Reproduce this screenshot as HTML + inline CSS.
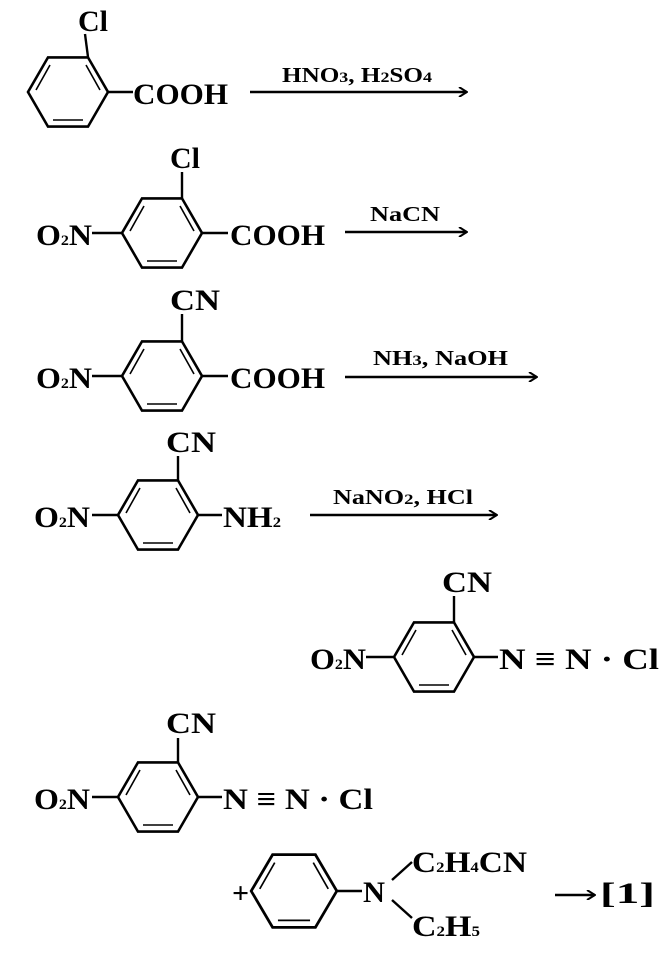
<!DOCTYPE html>
<html><head><meta charset="utf-8"><style>
html,body{margin:0;padding:0;background:#fff;}
svg{display:block;}
text{font-family:"Liberation Serif",serif;fill:#000;font-weight:bold;}
.t{font-size:30px;}
.s{font-size:15px;}
.l{font-size:21px;}
</style></head><body>
<svg width="662" height="962" viewBox="0 0 662 962" xmlns="http://www.w3.org/2000/svg">
<defs>
<g id="ring" fill="none" stroke="#000" stroke-width="2.6">
<polygon points="40,0 20,34.6 -20,34.6 -40,0 -20,-34.6 20,-34.6"/>
<line x1="-32" y1="-2" x2="-18" y2="-27" stroke-width="1.6"/>
<line x1="18" y1="-27" x2="32" y2="-2" stroke-width="1.6"/>
<line x1="-15" y1="28" x2="15" y2="28" stroke-width="1.6"/>
</g>
<marker id="ah" markerWidth="10" markerHeight="10" refX="9" refY="5" orient="auto" markerUnits="userSpaceOnUse">
<path d="M1,0 L9,5 L1,10" fill="none" stroke="#000" stroke-width="2"/>
</marker>
</defs>
<g stroke="#000" stroke-width="2.4" fill="none">
<line x1="88" y1="57" x2="85" y2="34"/><line x1="108" y1="92" x2="133" y2="92"/>
<line x1="182" y1="198" x2="182" y2="172"/><line x1="92" y1="233" x2="122" y2="233"/><line x1="202" y1="233" x2="228" y2="233"/>
<line x1="182" y1="341" x2="182" y2="314"/><line x1="92" y1="376" x2="122" y2="376"/><line x1="202" y1="376" x2="228" y2="376"/>
<line x1="178" y1="480" x2="178" y2="456"/><line x1="92" y1="515" x2="118" y2="515"/><line x1="198" y1="515" x2="222" y2="515"/>
<line x1="454" y1="622" x2="454" y2="596"/><line x1="366" y1="657" x2="393" y2="657"/><line x1="474" y1="657" x2="498" y2="657"/>
<line x1="178" y1="762" x2="178" y2="738"/><line x1="92" y1="797" x2="118" y2="797"/><line x1="198" y1="797" x2="222" y2="797"/>
<line x1="337" y1="891" x2="362" y2="891"/><line x1="392" y1="880" x2="412" y2="862"/><line x1="392" y1="900" x2="412" y2="918"/>
<line x1="250" y1="92" x2="467" y2="92" marker-end="url(#ah)"/>
<line x1="345" y1="232" x2="467" y2="232" marker-end="url(#ah)"/>
<line x1="345" y1="377" x2="537" y2="377" marker-end="url(#ah)"/>
<line x1="310" y1="515" x2="497" y2="515" marker-end="url(#ah)"/>
<line x1="555" y1="895" x2="595" y2="895" marker-end="url(#ah)"/>
</g>
<use href="#ring" transform="translate(68,92)"/>
<use href="#ring" transform="translate(162,233)"/>
<use href="#ring" transform="translate(162,376)"/>
<use href="#ring" transform="translate(158,515)"/>
<use href="#ring" transform="translate(434,657)"/>
<use href="#ring" transform="translate(158,797)"/>
<use href="#ring" transform="translate(294,891) scale(1.07,1.05)"/>

<text class="t" x="78" y="31" textLength="30" lengthAdjust="spacingAndGlyphs">Cl</text>
<text class="t" x="133" y="104" textLength="95" lengthAdjust="spacingAndGlyphs">COOH</text>
<text class="l" x="282" y="82" textLength="150" lengthAdjust="spacingAndGlyphs">HNO<tspan class="s">3</tspan>, H<tspan class="s">2</tspan>SO<tspan class="s">4</tspan></text>

<text class="t" x="170" y="168" textLength="30" lengthAdjust="spacingAndGlyphs">Cl</text>
<text class="t" x="36" y="245" textLength="56" lengthAdjust="spacingAndGlyphs">O<tspan class="s">2</tspan>N</text>
<text class="t" x="230" y="245" textLength="95" lengthAdjust="spacingAndGlyphs">COOH</text>
<text class="l" x="370" y="221" textLength="70" lengthAdjust="spacingAndGlyphs">NaCN</text>

<text class="t" x="170" y="310" textLength="50" lengthAdjust="spacingAndGlyphs">CN</text>
<text class="t" x="36" y="388" textLength="56" lengthAdjust="spacingAndGlyphs">O<tspan class="s">2</tspan>N</text>
<text class="t" x="230" y="388" textLength="95" lengthAdjust="spacingAndGlyphs">COOH</text>
<text class="l" x="373" y="365" textLength="135" lengthAdjust="spacingAndGlyphs">NH<tspan class="s">3</tspan>, NaOH</text>

<text class="t" x="166" y="452" textLength="50" lengthAdjust="spacingAndGlyphs">CN</text>
<text class="t" x="34" y="527" textLength="56" lengthAdjust="spacingAndGlyphs">O<tspan class="s">2</tspan>N</text>
<text class="t" x="223" y="527" textLength="58" lengthAdjust="spacingAndGlyphs">NH<tspan class="s">2</tspan></text>
<text class="l" x="333" y="504" textLength="140" lengthAdjust="spacingAndGlyphs">NaNO<tspan class="s">2</tspan>, HCl</text>

<text class="t" x="442" y="592" textLength="50" lengthAdjust="spacingAndGlyphs">CN</text>
<text class="t" x="310" y="669" textLength="56" lengthAdjust="spacingAndGlyphs">O<tspan class="s">2</tspan>N</text>
<text class="t" x="499" y="669" textLength="160" lengthAdjust="spacingAndGlyphs">N ≡ N · Cl</text>

<text class="t" x="166" y="733" textLength="50" lengthAdjust="spacingAndGlyphs">CN</text>
<text class="t" x="34" y="809" textLength="56" lengthAdjust="spacingAndGlyphs">O<tspan class="s">2</tspan>N</text>
<text class="t" x="223" y="809" textLength="150" lengthAdjust="spacingAndGlyphs">N ≡ N · Cl</text>

<text class="t" x="232" y="903" font-size="32">+</text>
<text class="t" x="363" y="902" textLength="22" lengthAdjust="spacingAndGlyphs">N</text>
<text class="t" x="412" y="872" textLength="115" lengthAdjust="spacingAndGlyphs">C<tspan class="s">2</tspan>H<tspan class="s">4</tspan>CN</text>
<text class="t" x="412" y="936" textLength="68" lengthAdjust="spacingAndGlyphs">C<tspan class="s">2</tspan>H<tspan class="s">5</tspan></text>
<text class="t" x="600" y="903" textLength="55" lengthAdjust="spacingAndGlyphs">[1]</text>
</svg>
</body></html>
